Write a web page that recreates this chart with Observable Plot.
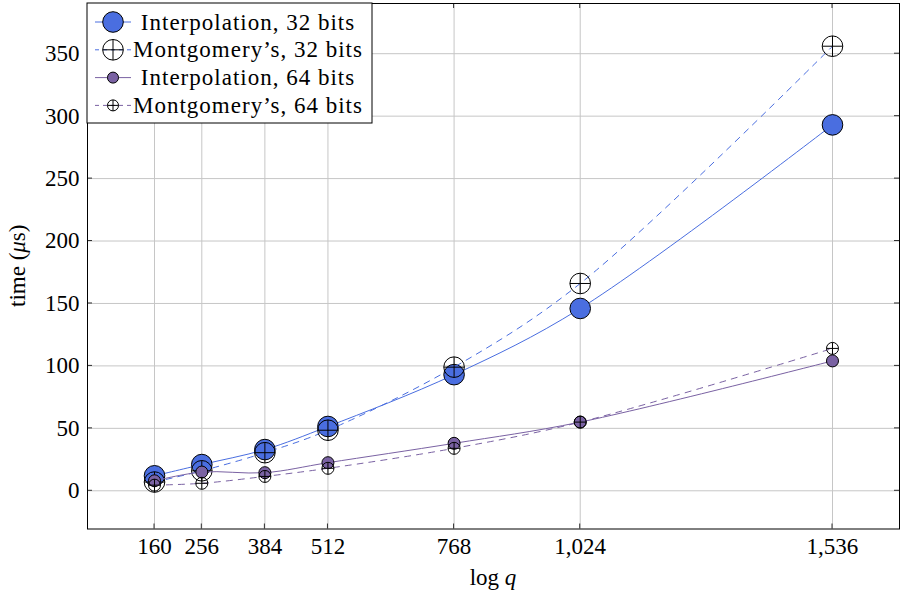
<!DOCTYPE html>
<html>
<head>
<meta charset="utf-8">
<script src="https://cdn.jsdelivr.net/npm/d3@7"></script>
<script src="https://cdn.jsdelivr.net/npm/@observablehq/plot@0.6"></script>
<style>
  html, body { margin: 0; padding: 0; background: #fff; }
  svg { display: block; }
</style>
</head>
<body>
<div id="chart"></div>
<script>
// Modulus size (bits of q) and timings in microseconds
const logq = [160, 256, 384, 512, 768, 1024, 1536];
const interp32 = [12, 21, 33, 51.5, 93, 146, 293];
const mont32 = [7, 16, 30.5, 48.5, 99, 166, 356];
const interp64 = [8, 15, 14.5, 22.5, 38, 55, 104];
const mont64 = [4.5, 6, 11.5, 18, 34, 55, 114];
const yTicks = [0, 50, 100, 150, 200, 250, 300, 350];
const seriesNames = ["Interpolation, 32 bits", "Montgomery\u2019s, 32 bits", "Interpolation, 64 bits", "Montgomery\u2019s, 64 bits"];

const W = 902, H = 597;
const mL = 87, mR = 3, mT = 3, mB = 68.5;
const FONT = "'Liberation Serif', 'Times New Roman', serif";
const BLUE = "#4a6ee0";
const PURPLE = "#7a62a3";
const GRID = "#c6c6c6";

// circle with a plus inside (⊕)
const oplus = {
  draw(ctx, size) {
    const r = Math.sqrt(size / Math.PI);
    ctx.moveTo(r, 0);
    ctx.arc(0, 0, r, 0, 2 * Math.PI);
    ctx.moveTo(-r, 0); ctx.lineTo(r, 0);
    ctx.moveTo(0, -r); ctx.lineTo(0, r);
  }
};

const series = [
  {name: seriesNames[0], values: interp32, color: BLUE, dash: null, marker: "circle", fill: BLUE, r: 10.3},
  {name: seriesNames[1], values: mont32, color: BLUE, dash: "6,6", marker: oplus, fill: "none", r: 10.3},
  {name: seriesNames[2], values: interp64, color: PURPLE, dash: null, marker: "circle", fill: PURPLE, r: 6},
  {name: seriesNames[3], values: mont64, color: PURPLE, dash: "6,6", marker: oplus, fill: "none", r: 6}
];

const marks = [
  Plot.gridX(logq, {stroke: GRID, strokeOpacity: 1, strokeWidth: 1}),
  Plot.gridY(yTicks, {stroke: GRID, strokeOpacity: 1, strokeWidth: 1}),
  Plot.axisX(logq, {tickSize: 0, tickPadding: 9, tickFormat: d3.format(","), label: null, fill: "#000"}),
  Plot.axisY(yTicks, {tickSize: 0, tickPadding: 8, label: null, fill: "#000"})
];

for (const s of series) {
  const rows = logq.map((q, i) => ({q, t: s.values[i]}));
  marks.push(Plot.line(rows, {
    x: "q", y: "t", curve: "catmull-rom",
    stroke: s.color, strokeWidth: 1, strokeDasharray: s.dash
  }));
  marks.push(Plot.dot(rows, {
    x: "q", y: "t", r: s.r, symbol: s.marker,
    fill: s.fill, stroke: "#000", strokeWidth: 1
  }));
}
marks.push(Plot.frame({stroke: "#000", strokeWidth: 1}));

const plot = Plot.plot({
  width: W, height: H,
  marginLeft: mL, marginRight: mR, marginTop: mT, marginBottom: mB,
  style: {fontFamily: FONT, fontSize: "23px", color: "#000", background: "#fff"},
  x: {domain: [24, 1672]},
  y: {domain: [-30.6, 390.2]},
  marks
});
document.getElementById("chart").appendChild(plot);

const svg = d3.select(plot);
const xs = plot.scale("x"), ys = plot.scale("y");
const frameL = mL, frameR = W - mR, frameT = mT, frameB = H - mB;

// inward ticks on all four sides
const tk = svg.append("g").attr("stroke", "#000").attr("stroke-width", 0.8);
for (const q of logq) {
  const x = xs.apply(q);
  tk.append("line").attr("x1", x).attr("x2", x).attr("y1", frameB).attr("y2", frameB - 5);
  tk.append("line").attr("x1", x).attr("x2", x).attr("y1", frameT).attr("y2", frameT + 5);
}
for (const t of yTicks) {
  const y = ys.apply(t);
  tk.append("line").attr("x1", frameL).attr("x2", frameL + 5).attr("y1", y).attr("y2", y);
  tk.append("line").attr("x1", frameR).attr("x2", frameR - 5).attr("y1", y).attr("y2", y);
}

// axis titles
const xt = svg.append("text")
  .attr("x", (frameL + frameR) / 2).attr("y", 585)
  .attr("text-anchor", "middle").attr("font-family", FONT).attr("font-size", 23);
xt.append("tspan").text("log ");
xt.append("tspan").attr("font-style", "italic").text("q");

const yt = svg.append("text")
  .attr("transform", `translate(25,${(frameT + frameB) / 2}) rotate(-90)`)
  .attr("text-anchor", "middle").attr("font-family", FONT).attr("font-size", 23);
yt.append("tspan").text("time (");
yt.append("tspan").attr("font-style", "italic").text("\u03bc");
yt.append("tspan").text("s)");

// legend box in the upper-left corner
const lg = svg.append("g").attr("transform", `translate(${frameL},${frameT})`);
lg.append("rect").attr("x", 0).attr("y", 0).attr("width", 285).attr("height", 120)
  .attr("fill", "#fff").attr("stroke", "#000").attr("stroke-width", 1);
series.forEach((s, i) => {
  const cy = 19 + i * 27.8;
  lg.append("line").attr("x1", 8).attr("x2", 44).attr("y1", cy).attr("y2", cy)
    .attr("stroke", s.color).attr("stroke-width", 1)
    .attr("stroke-dasharray", s.dash ? "4,4" : null);
  const r = s.r === 6 ? 5.5 : 10.3;
  const sym = typeof s.marker === "string" ? d3.symbol(d3.symbolCircle, Math.PI * r * r) : d3.symbol(s.marker, Math.PI * r * r);
  lg.append("path").attr("d", sym()).attr("transform", `translate(26,${cy})`)
    .attr("fill", s.fill).attr("stroke", "#000").attr("stroke-width", 1);
  lg.append("text").attr("x", 161).attr("y", cy).attr("dy", "0.33em")
    .attr("text-anchor", "middle").attr("font-family", FONT).attr("font-size", 23)
    .attr("letter-spacing", "1px").text(s.name);
});
</script>
</body>
</html>
